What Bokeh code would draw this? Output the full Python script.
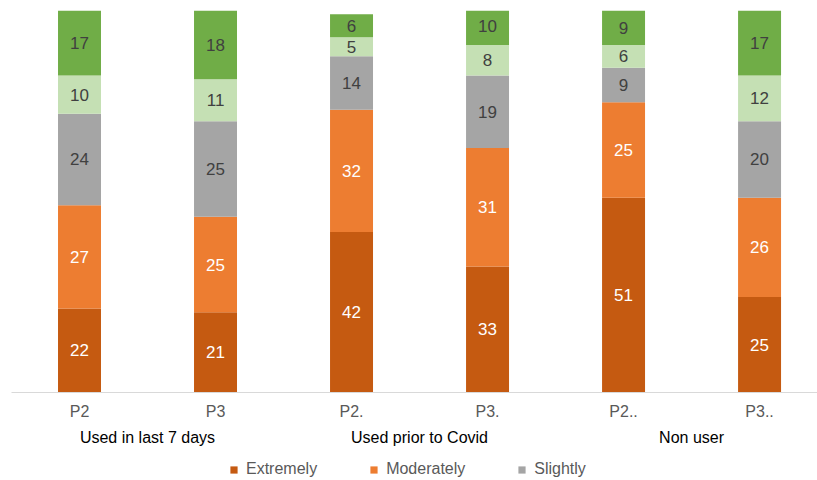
import numpy as np
from bokeh.plotting import figure
from bokeh.layouts import column
from bokeh.models import (ColumnDataSource, Range1d, FixedTicker, LinearAxis,
                          Legend, LegendItem)
from bokeh.embed import file_html
from bokeh.resources import INLINE
from bokeh.core.properties import value

categories = ["P2", "P3", "P2.", "P3.", "P2..", "P3.."]
groups = ["Used in last 7 days", "Used prior to Covid", "Non user"]
series_names = ["Extremely", "Moderately", "Slightly", "Not very", "Not at all"]
extremely = [22, 21, 42, 33, 51, 25]
moderately = [27, 25, 32, 31, 25, 26]
slightly = [24, 25, 14, 19, 9, 20]
not_very = [10, 11, 5, 8, 6, 12]
not_at_all = [17, 18, 6, 10, 9, 17]
legend_series = ["Extremely", "Moderately", "Slightly"]

colors = ["#C55A11", "#ED7D31", "#A5A5A5", "#C5E0B4", "#70AD47"]
label_colors = ["#FFFFFF", "#FFFFFF", "#404040", "#404040", "#404040"]
FONT = "Liberation Sans"

x = list(range(len(categories)))
series_values = [extremely, moderately, slightly, not_very, not_at_all]
data = {"x": x}
for name, vals in zip(series_names, series_values):
    data[name] = vals
src = ColumnDataSource(data)

p = figure(width=817, height=450, output_backend="svg", toolbar_location=None,
           x_range=Range1d(-0.5, 5.426), y_range=Range1d(0, 100),
           y_axis_location=None, min_border_left=11, min_border_right=0,
           min_border_top=10, min_border_bottom=58, outline_line_color=None)
p.xgrid.visible = False
p.ygrid.visible = False

renderers = p.vbar_stack(series_names, x="x", width=0.316, color=colors,
                         line_color=None, source=src)

# value labels
bottom = np.zeros(len(x))
for name, vals, lc in zip(series_names, series_values, label_colors):
    v = np.array(vals, dtype=float)
    mid = bottom + v / 2
    p.text(x=x, y=list(mid), text=[str(int(a)) for a in v],
           text_align="center", text_baseline="middle",
           text_font=value(FONT), text_font_size="17px", text_color=lc)
    bottom = bottom + v

# category axis
ax = p.xaxis[0]
ax.ticker = FixedTicker(ticks=x)
ax.major_label_overrides = {i: c for i, c in zip(x, categories)}
ax.axis_line_color = "#D9D9D9"
ax.axis_line_width = 1
ax.major_tick_line_color = None
ax.minor_tick_line_color = None
ax.major_label_text_font = FONT
ax.major_label_text_font_size = "16px"
ax.major_label_text_color = "#595959"
ax.major_label_standoff = 4

# group axis
group_pos = [(x[2 * i] + x[2 * i + 1]) / 2 for i in range(len(groups))]
ax2 = LinearAxis(ticker=FixedTicker(ticks=group_pos),
                 major_label_overrides={g: n for g, n in zip(group_pos, groups)},
                 axis_line_color=None, major_tick_line_color=None,
                 minor_tick_line_color=None, major_label_text_font=FONT,
                 major_label_text_font_size="16px",
                 major_label_text_color="#000000", major_label_standoff=0)
p.add_layout(ax2, "below")

# legend strip (same data, drawn outside this strip's visible range)
lg = figure(width=817, height=30, output_backend="svg", toolbar_location=None,
            x_range=Range1d(-20, -19), y_range=Range1d(-20, -19),
            x_axis_location=None, y_axis_location=None, min_border=0,
            outline_line_color=None)
lg.xgrid.visible = False
lg.ygrid.visible = False
items = []
for n in legend_series:
    c = colors[series_names.index(n)]
    r = lg.vbar(x="x", top=n, width=0.316, fill_color=c, line_color=None,
                source=src)
    items.append(LegendItem(label=n, renderers=[r]))
legend = Legend(items=items, orientation="horizontal", location=(218, 2),
                glyph_width=9, glyph_height=9, label_standoff=8, spacing=52,
                padding=0, margin=0, border_line_color=None,
                background_fill_alpha=0, label_text_font=FONT,
                label_text_font_size="16px", label_text_color="#595959")
lg.add_layout(legend, "center")

layout = column(p, lg, spacing=0)
open("out.html", "w").write(file_html(layout, INLINE))
